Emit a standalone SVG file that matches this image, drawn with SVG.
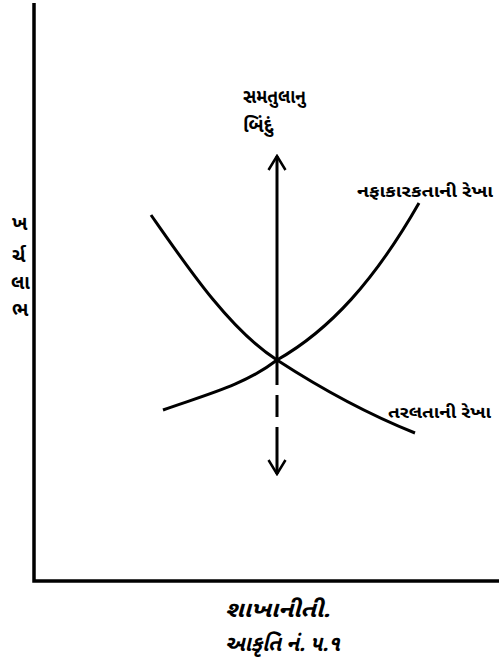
<svg xmlns="http://www.w3.org/2000/svg" width="499" height="670" viewBox="0 0 499 670">
<style>
text{font-family:"Noto Sans Gujarati","Noto Serif Gujarati","Noto Sans",sans-serif;fill:#000;font-weight:bold}
.axis{stroke:#000;stroke-width:3.5;fill:none}
.curve{stroke:#000;stroke-width:3;fill:none}
.lbl{font-size:17px}
.ylbl{font-size:19px}
.big{font-size:19px}
.cap{font-size:22px;font-style:italic}
</style>
<defs>
<marker id="arr" viewBox="0 0 20 20" refX="18" refY="10" markerWidth="20" markerHeight="20" markerUnits="userSpaceOnUse" orient="auto">
<path d="M4,1.5 L18,10 L4,18.5" fill="none" stroke="#000" stroke-width="2.5"/>
</marker>
</defs>
<g id="axes">
<path class="axis" d="M34,3 V581 H499"/>
</g>
<g id="connectors">
<path class="curve" d="M151,215 C188,268 230,330 277,360 C320,388 370,415 415,433"/>
<path class="curve" d="M163,410 C205,395 245,385 277,360 C330,330 375,280 419,203"/>
<line x1="277" y1="360" x2="277" y2="156" stroke="#000" stroke-width="3" marker-end="url(#arr)"/>
<line x1="277" y1="360" x2="277" y2="474" stroke="#000" stroke-width="3" stroke-dasharray="25,10,22,10,80" marker-end="url(#arr)"/>
</g>
<g id="ylabel">
<text class="ylbl" x="12" y="230">ખ</text>
<text class="ylbl" x="12" y="262">ર્ચ</text>
<text class="ylbl" x="11" y="289">લા</text>
<text class="ylbl" x="12" y="316">ભ</text>
</g>
<g id="equilibrium">
<text class="big" x="243" y="103" textLength="63" lengthAdjust="spacingAndGlyphs">સમતુલાનુ</text>
<text class="big" x="243" y="132">બિંદું</text>
</g>
<g id="profit">
<text class="lbl" x="357" y="197" textLength="136" lengthAdjust="spacingAndGlyphs">નફાકારકતાની રેખા</text>
</g>
<g id="liquidity">
<text class="lbl" x="388" y="418" textLength="103" lengthAdjust="spacingAndGlyphs">તરલતાની રેખા</text>
</g>
<g id="caption">
<text class="cap" x="225" y="617" textLength="105" lengthAdjust="spacingAndGlyphs">શાખાનીતી.</text>
<text class="cap" x="225" y="651" textLength="115" lengthAdjust="spacingAndGlyphs">આકૃતિ નં. ૫.૧</text>
</g>
</svg>
